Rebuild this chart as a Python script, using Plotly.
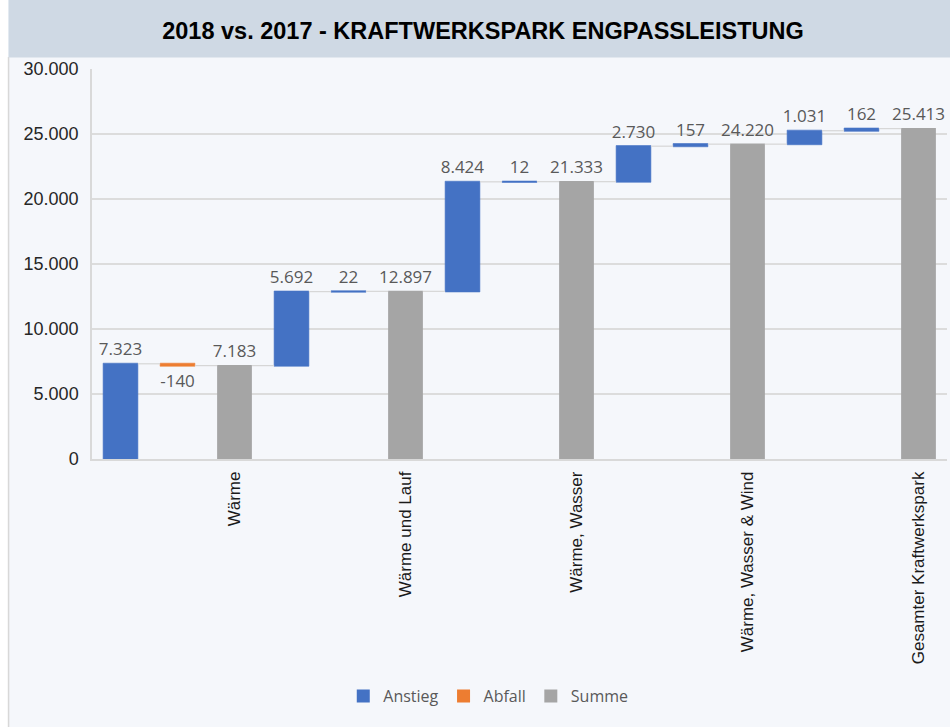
import plotly.graph_objects as go

# ---- data ----
labels = ["", "", "Wärme", "", "", "Wärme und Lauf", "", "", "Wärme, Wasser",
          "", "", "Wärme, Wasser & Wind", "", "", "Gesamter Kraftwerkspark"]
values = [7323, -140, 7183, 5692, 22, 12897, 8424, 12, 21333,
          2730, 157, 24220, 1031, 162, 25413]
measures = ["relative", "relative", "total", "relative", "relative", "total",
            "relative", "relative", "total", "relative", "relative", "total",
            "relative", "relative", "total"]
legend_names = ["Anstieg", "Abfall", "Summe"]
y_ticks = [0, 5000, 10000, 15000, 20000, 25000, 30000]

C_UP, C_DOWN, C_TOT = "#4472c4", "#ed7d31", "#a5a5a5"

def de(v):
    return f"{v:,}".replace(",", ".")

xs = list(range(len(values)))
tick_idx = [i for i, l in enumerate(labels) if l]

fig = go.Figure()
fig.add_trace(go.Waterfall(
    x=xs, y=values, measure=measures,
    text=[de(v) for v in values], textinfo="text", textposition="outside",
    constraintext="none",
    textfont=dict(family="Open Sans", size=17, color="#595959"),
    cliponaxis=False,
    increasing=dict(marker=dict(color=C_UP, line=dict(color=C_UP, width=0.6))),
    decreasing=dict(marker=dict(color=C_DOWN, line=dict(color=C_DOWN, width=0.6))),
    totals=dict(marker=dict(color=C_TOT, line=dict(color=C_TOT, width=0))),
    connector=dict(line=dict(color="#d6d6d6", width=1.2)),
    showlegend=False, hoverinfo="skip",
))
for name, col in zip(legend_names, [C_UP, C_DOWN, C_TOT]):
    fig.add_trace(go.Scatter(x=[None], y=[None], mode="markers", name=name,
                             marker=dict(symbol="square", size=13, color=col)))

H_PLOT = 390.0
TOP = 69.0
L = 91.5
W_PLOT = 855.5

def py(pix):
    return 1 + (TOP - pix) / H_PLOT

def px(pix):
    return (pix - L) / W_PLOT

shapes = [
    # left white strip + card border
    dict(type="rect", xref="paper", yref="paper", x0=px(-2), x1=px(7.5), y0=py(730), y1=py(-2),
         fillcolor="white", line=dict(width=0), layer="below"),
    dict(type="line", xref="paper", yref="paper", x0=px(8), x1=px(8), y0=py(730), y1=py(57),
         line=dict(color="#d8d8d8", width=1.5), layer="below"),
    # title band
    dict(type="rect", xref="paper", yref="paper", x0=px(8), x1=px(952), y0=py(57.5), y1=py(-2),
         fillcolor="#cfd9e4", line=dict(width=0), layer="below"),
]

fig.update_layout(
    width=950, height=727,
    margin=dict(l=L, r=950 - L - W_PLOT, t=TOP, b=727 - TOP - H_PLOT),
    paper_bgcolor="#f5f7fb", plot_bgcolor="#f5f7fb",
    separators=",.",
    waterfallgap=0.39,
    shapes=shapes,
    title=dict(text="<b>2018 vs. 2017 - KRAFTWERKSPARK ENGPASSLEISTUNG</b>",
               x=483 / 950, xanchor="center", y=1 - 31 / 727, yanchor="middle",
               xref="container", yref="container",
               font=dict(family="Liberation Sans", size=23.5, color="#000000")),
    xaxis=dict(range=[-0.5, len(values) - 0.5], tickmode="array", tickvals=tick_idx,
               ticktext=[labels[i] for i in tick_idx], tickangle=-90,
               tickfont=dict(family="Liberation Sans", size=17, color="#1a1a1a"),
               ticks="outside", ticklen=4, tickcolor="rgba(0,0,0,0)",
               showgrid=False, zeroline=False, showline=True, linecolor="#d9d9d9", linewidth=1.5,
               fixedrange=True),
    yaxis=dict(range=[0, 30000], tickmode="array", tickvals=y_ticks, tickformat=",d",
               tickfont=dict(family="Liberation Sans", size=18, color="#262626"),
               ticks="outside", ticklen=8, tickcolor="rgba(0,0,0,0)",
               showgrid=True, gridcolor="#dcdcdc", gridwidth=1.5,
               zeroline=False, showline=True, linecolor="#d9d9d9", linewidth=1.5,
               fixedrange=True),
    legend=dict(orientation="h", x=px(488), xanchor="center", y=py(696), yanchor="middle",
                font=dict(family="Open Sans", size=16, color="#595959"),
                bgcolor="rgba(0,0,0,0)", itemwidth=30, tracegroupgap=0),
    showlegend=True,
)

fig.write_html("out.html", config={"displayModeBar": False},
               post_script="document.body.style.margin='0';")
